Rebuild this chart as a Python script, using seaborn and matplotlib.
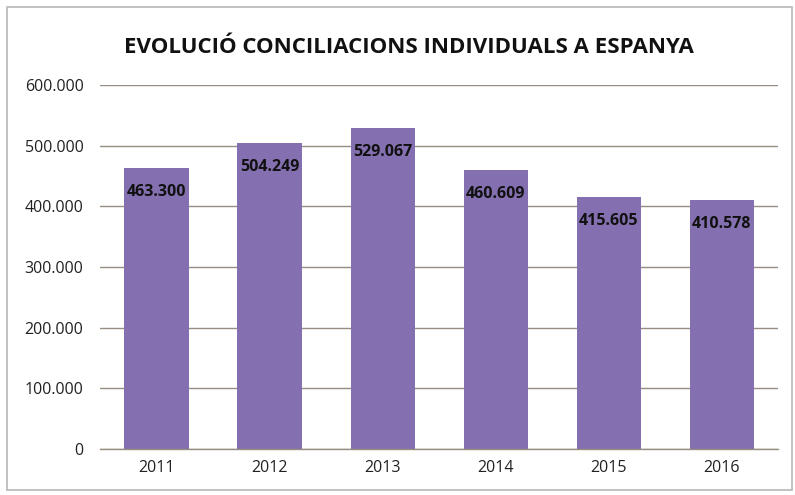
import matplotlib
matplotlib.use("Agg")
import matplotlib.pyplot as plt
import seaborn as sns
import pandas as pd
from matplotlib.patches import Rectangle

years = ["2011", "2012", "2013", "2014", "2015", "2016"]
values = [463300, 504249, 529067, 460609, 415605, 410578]
yticks = [0, 100000, 200000, 300000, 400000, 500000, 600000]

df = pd.DataFrame({"year": years, "value": values})

sns.set_style("white")
plt.rcParams["font.family"] = ["Open Sans", "DejaVu Sans"]

fig = plt.figure(figsize=(7.95, 4.95), dpi=100)
ax = fig.add_axes([0.126, 0.093, 0.853, 0.735])

fig.patches.append(Rectangle((0.009, 0.01), 0.987, 0.976, transform=fig.transFigure,
                             fill=False, edgecolor="#b8b8b8", linewidth=1.2))

ax.set_axisbelow(True)
sns.barplot(data=df, x="year", y="value", color="#8470b0", saturation=1,
            width=0.57, linewidth=0, ax=ax)

ax.set_ylim(0, 600000)
ax.set_yticks(yticks)
ax.set_yticklabels([f"{v:,}".replace(",", ".") for v in yticks], fontsize=11.5, color="#222222")
ax.tick_params(axis="x", labelsize=11.5, colors="#222222", length=0, pad=8)
ax.tick_params(axis="y", length=0, pad=12)
ax.grid(axis="y", color="#978d80", linewidth=1.0)
ax.set_xlabel("")
ax.set_ylabel("")
for s in ax.spines.values():
    s.set_visible(False)
# baseline at zero
ax.spines["bottom"].set_visible(True)
ax.spines["bottom"].set_color("#978d80")
ax.spines["bottom"].set_linewidth(1.0)

for i, v in enumerate(values):
    ax.text(i, v - 40000, f"{v:,}".replace(",", "."), ha="center", va="center",
            fontsize=11.5, fontweight="bold", color="#111111")

fig.text(0.515, 0.905, "EVOLUCIÓ CONCILIACIONS INDIVIDUALS A ESPANYA", ha="center",
         va="center", fontsize=16, fontweight="bold", color="#111111")

fig.savefig("out.png", dpi=100, facecolor="white")
